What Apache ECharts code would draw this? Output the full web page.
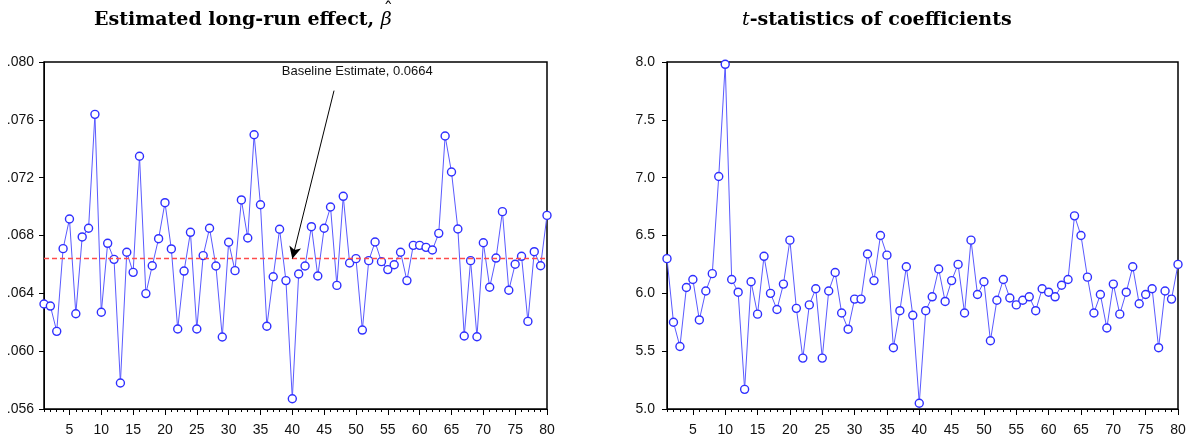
<!DOCTYPE html>
<html>
<head>
<meta charset="utf-8">
<script src="https://cdn.jsdelivr.net/npm/echarts@6/dist/echarts.min.js"></script>
<style>
html,body{margin:0;padding:0;background:#fff;}
#chart{width:1193px;height:442px;}
</style>
</head>
<body>
<div id="chart"></div>
<script>
// ---------- data ----------
const xIndex = Array.from({length: 80}, (_, i) => i + 1);
const betaValues = [
  0.06326, 0.06312, 0.06137, 0.06709, 0.06914, 0.06259, 0.06790, 0.06850, 0.07638, 0.06269,
  0.06746, 0.06635, 0.05780, 0.06684, 0.06545, 0.07348, 0.06398, 0.06591, 0.06778, 0.07027,
  0.06707, 0.06153, 0.06554, 0.06822, 0.06153, 0.06661, 0.06850, 0.06589, 0.06098, 0.06753,
  0.06557, 0.07046, 0.06783, 0.07497, 0.07013, 0.06172, 0.06515, 0.06843, 0.06488, 0.05671,
  0.06534, 0.06589, 0.06861, 0.06520, 0.06850, 0.06997, 0.06455, 0.07071, 0.06610, 0.06640,
  0.06146, 0.06626, 0.06755, 0.06619, 0.06564, 0.06598, 0.06684, 0.06488, 0.06732, 0.06732,
  0.06718, 0.06700, 0.06815, 0.07488, 0.07239, 0.06845, 0.06105, 0.06626, 0.06100, 0.06750,
  0.06442, 0.06644, 0.06965, 0.06421, 0.06601, 0.06656, 0.06206, 0.06688, 0.06591, 0.06939
];
const tStatValues = [
  6.30, 5.75, 5.54, 6.05, 6.12, 5.77, 6.02, 6.17, 7.01, 7.98,
  6.12, 6.01, 5.17, 6.10, 5.82, 6.32, 6.00, 5.86, 6.08, 6.46,
  5.87, 5.44, 5.90, 6.04, 5.44, 6.02, 6.18, 5.83, 5.69, 5.95,
  5.95, 6.34, 6.11, 6.50, 6.33, 5.53, 5.85, 6.23, 5.81, 5.05,
  5.85, 5.97, 6.21, 5.93, 6.11, 6.25, 5.83, 6.46, 5.99, 6.10,
  5.59, 5.94, 6.12, 5.96, 5.90, 5.94, 5.97, 5.85, 6.04, 6.01,
  5.97, 6.07, 6.12, 6.67, 6.50, 6.14, 5.83, 5.99, 5.70, 6.08,
  5.82, 6.01, 6.23, 5.91, 5.99, 6.04, 5.53, 6.02, 5.95, 6.25
];
const baselineEstimate = 0.0664;
const annotationText = 'Baseline Estimate, 0.0664';
const annotationTextAt = [50.2, 0.07933];
const annotationArrowFrom = [46.55, 0.07802];
const annotationArrowTo = [40, baselineEstimate];
const xTickLabels = [5, 10, 15, 20, 25, 30, 35, 40, 45, 50, 55, 60, 65, 70, 75, 80];
const leftYTicks = [0.056, 0.060, 0.064, 0.068, 0.072, 0.076, 0.080];
const rightYTicks = [5.0, 5.5, 6.0, 6.5, 7.0, 7.5, 8.0];
const titleLeft = 'Estimated long-run effect, ';
const titleLeftSymbol = 'β';
const titleLeftHat = 'ˆ';
const titleRightItalic = 't';
const titleRight = '-statistics of coefficients';

// ---------- chart ----------
const chart = echarts.init(document.getElementById('chart'), null, {renderer: 'canvas'});
const labelFont = {fontFamily: 'Liberation Sans, Arial, sans-serif', fontSize: 14, color: '#111'};
const lineColor = '#5a5aff';
const markerColor = '#2f2fff';
const titleSize = 19;
const serif = 'DejaVu Serif, serif';

const measureCtx = document.createElement('canvas').getContext('2d');
function textWidth(text, font) { measureCtx.font = font; return measureCtx.measureText(text).width; }
const titleLeftX = 94;
const titleRightX = 742;
const titleY = 20;
const leftMainW = textWidth(titleLeft, 'bold ' + titleSize + 'px ' + serif);
const betaW = textWidth(titleLeftSymbol, 'italic ' + titleSize + 'px ' + serif);

function xAxesFor(gridIndex) {
  return [
    { // minor integer ticks
      type: 'value', gridIndex, min: 1, max: 80,
      axisLine: {show: true, lineStyle: {color: '#000', width: 1}},
      axisTick: {show: true, customValues: xIndex, length: 3, lineStyle: {color: '#000'}},
      axisLabel: {show: false},
      splitLine: {show: false}
    },
    { // major ticks + labels
      type: 'value', gridIndex, min: 1, max: 80, position: 'bottom',
      axisLine: {show: false},
      axisTick: {show: true, customValues: xTickLabels, length: 6, lineStyle: {color: '#000'}},
      axisLabel: Object.assign({show: true, customValues: xTickLabels, margin: 14}, labelFont),
      splitLine: {show: false}
    }
  ];
}

const option = {
  animation: false,
  backgroundColor: '#fff',
  graphic: [
    {
      type: 'text', x: titleLeftX, y: titleY,
      style: {
        text: '{b|' + titleLeft + '}{s|' + titleLeftSymbol + '}',
        textAlign: 'left', textVerticalAlign: 'middle',
        rich: {
          b: {fontFamily: serif, fontWeight: 'bold', fontSize: titleSize, fill: '#000'},
          s: {fontFamily: serif, fontStyle: 'italic', fontSize: titleSize, fill: '#000'}
        }
      }
    },
    {
      type: 'text', x: titleLeftX + leftMainW + betaW / 2 + 2, y: titleY - 9,
      style: {
        text: titleLeftHat, textAlign: 'center', textVerticalAlign: 'middle',
        fontFamily: serif, fontSize: titleSize, fill: '#000'
      }
    },
    {
      type: 'text', x: titleRightX, y: titleY,
      style: {
        text: '{i|' + titleRightItalic + '}{b|' + titleRight + '}',
        textAlign: 'left', textVerticalAlign: 'middle',
        rich: {
          b: {fontFamily: serif, fontWeight: 'bold', fontSize: titleSize, fill: '#000'},
          i: {fontFamily: serif, fontStyle: 'italic', fontSize: titleSize, fill: '#000'}
        }
      }
    }
  ],
  grid: [
    {left: 44, right: 646, top: 62, bottom: 33, show: true, borderColor: '#000', borderWidth: 1.5, backgroundColor: '#fff'},
    {left: 667, right: 15, top: 62, bottom: 33, show: true, borderColor: '#000', borderWidth: 1.5, backgroundColor: '#fff'}
  ],
  xAxis: xAxesFor(0).concat(xAxesFor(1)),
  yAxis: [
    {
      type: 'value', gridIndex: 0, min: 0.056, max: 0.080, interval: 0.004,
      axisLine: {show: true, lineStyle: {color: '#000'}},
      axisTick: {show: true, customValues: leftYTicks, length: 5, lineStyle: {color: '#000'}},
      axisLabel: Object.assign({customValues: leftYTicks, margin: 10,
        formatter: v => v.toFixed(3).replace(/^0/, '')}, labelFont),
      splitLine: {show: false}
    },
    {
      type: 'value', gridIndex: 1, min: 5, max: 8, interval: 0.5,
      axisLine: {show: true, lineStyle: {color: '#000'}},
      axisTick: {show: true, customValues: rightYTicks, length: 5, lineStyle: {color: '#000'}},
      axisLabel: Object.assign({customValues: rightYTicks, margin: 12,
        formatter: v => v.toFixed(1)}, labelFont),
      splitLine: {show: false}
    }
  ],
  series: [
    {
      type: 'line', xAxisIndex: 0, yAxisIndex: 0,
      data: xIndex.map((x, i) => [x, betaValues[i]]),
      symbol: 'circle', symbolSize: 8, showAllSymbol: true,
      lineStyle: {color: lineColor, width: 1},
      itemStyle: {color: '#fff', borderColor: markerColor, borderWidth: 1.4},
      clip: false,
      z: 3,
      markLine: {
        silent: true, animation: false, precision: 6,
        symbol: ['none', 'none'],
        label: {show: false},
        data: [
          {yAxis: baselineEstimate, lineStyle: {color: '#ff4b4b', type: [5, 3], width: 1.3}},
          [
            {coord: annotationArrowFrom, symbol: 'none', lineStyle: {color: '#000', type: 'solid', width: 1}},
            {coord: annotationArrowTo, symbol: 'arrow', symbolSize: [9, 12]}
          ]
        ]
      },
      markPoint: {
        silent: true, animation: false,
        symbol: 'rect', symbolSize: 1, itemStyle: {color: 'rgba(0,0,0,0)'},
        data: [{
          coord: annotationTextAt,
          label: {show: true, position: 'inside', formatter: annotationText,
            fontFamily: 'Liberation Sans, Arial, sans-serif', fontSize: 13, color: '#111'}
        }]
      }
    },
    {
      type: 'line', xAxisIndex: 2, yAxisIndex: 1,
      data: xIndex.map((x, i) => [x, tStatValues[i]]),
      symbol: 'circle', symbolSize: 8, showAllSymbol: true,
      lineStyle: {color: lineColor, width: 1},
      itemStyle: {color: '#fff', borderColor: markerColor, borderWidth: 1.4},
      clip: false,
      z: 3
    }
  ]
};
chart.setOption(option);
</script>
</body>
</html>
